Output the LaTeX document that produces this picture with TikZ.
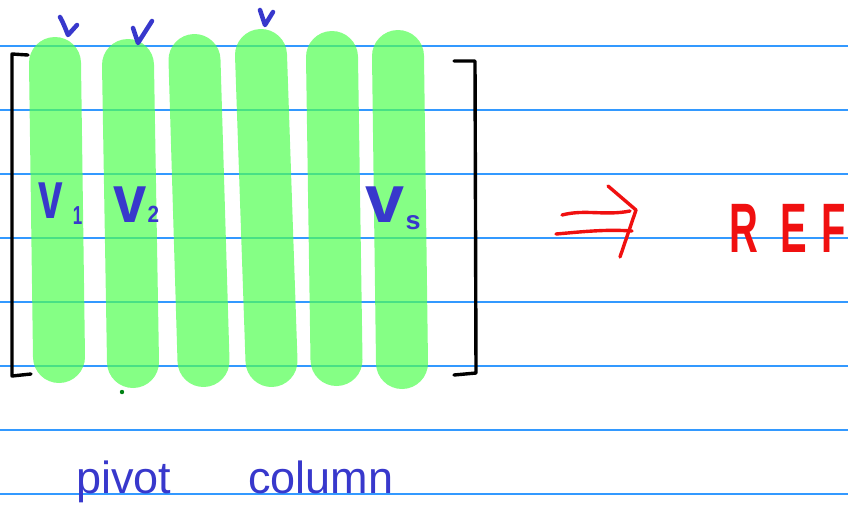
\documentclass[tikz,border=0pt]{standalone}
\usepackage{fontspec}
\setmainfont{Liberation Sans}
\definecolor{pen}{RGB}{56,56,204}
\definecolor{hl}{RGB}{82,255,82}
\definecolor{ruleblue}{RGB}{51,153,255}
\definecolor{redpen}{RGB}{240,16,16}
\definecolor{dotgreen}{RGB}{0,130,20}
\begin{document}
\begin{tikzpicture}[x=1pt,y=-1pt,
  pill/.style={hl, opacity=0.7, line width=52pt, line cap=round},
  ruled/.style={ruleblue, line width=2pt},
  bracket/.style={black, line width=3.4pt, line cap=round, line join=round},
  tick/.style={pen, line width=4.5pt, line cap=round, line join=round},
  redstroke/.style={redpen, line width=3.4pt, line cap=round, line join=round},
  vlabel/.style={pen, anchor=base west, inner sep=0pt, font=\bfseries\fontsize{52}{52}\selectfont},
  hand/.style={pen, anchor=base west, inner sep=0pt, font=\fontsize{45}{45}\selectfont}]
\useasboundingbox (0,0) rectangle (848,523);
\clip (0,0) rectangle (848,523);
\fill[white] (0,0) rectangle (848,523);
% ruled lines
\foreach \yy in {46,110,174,238,302,366,430,494}
  \draw[ruled] (0,\yy) -- (848,\yy);
% highlighted columns
\draw[pill] (55,63) -- (59,357);
\draw[pill] (128,65) -- (133,362);
\draw[pill] (194.5,60) -- (203.5,361);
\draw[pill] (261,55) -- (271.5,361);
\draw[pill] (332,57) -- (336.5,360);
\draw[pill] (398,56) -- (402,363);
% brackets
\draw[bracket] (28,55) -- (12,54) -- (12,376) -- (31,374);
\draw[bracket] (454,61) -- (475,61) -- (476,373) -- (454,375);
% ticks above pivot columns
\draw[tick] (60,17) .. controls (63,22) and (66,30) .. (68,35) -- (77,25);
\draw[tick] (133,28) -- (138,43) -- (152,21);
\draw[tick] (260,10) -- (265,25) -- (273,12);
% column labels
\node[vlabel, xscale=0.85, yscale=1.3] (v1) at (38,218) {v\kern12pt\raisebox{-5pt}{\fontsize{20}{20}\selectfont 1}};
\node[vlabel, xscale=1.15, yscale=1.3] (v2) at (113,222) {v\kern1pt{\fontsize{18}{18}\selectfont 2}};
\node[vlabel, xscale=1.35, yscale=1.3] (vs) at (365,222) {v\kern1pt\raisebox{-6pt}{\fontsize{20}{20}\selectfont s}};
\fill[dotgreen] (122,392) circle (2.2);
% implies arrow
\draw[redstroke] (562,215) .. controls (585,209) and (605,216) .. (630,211);
\draw[redstroke] (556,234) .. controls (580,232) and (605,229) .. (632,231);
\draw[redstroke] (608,186) -- (636,210) -- (620,257);
\node[redpen, anchor=base west, inner sep=0pt, xscale=0.57, font=\bfseries\fontsize{70}{70}\selectfont] (ref) at (729,252) {R\kern40pt E\kern24pt F};
% caption
\node[hand] (cap) at (76,493) {pivot\hspace{77pt}column};
\end{tikzpicture}
\end{document}
